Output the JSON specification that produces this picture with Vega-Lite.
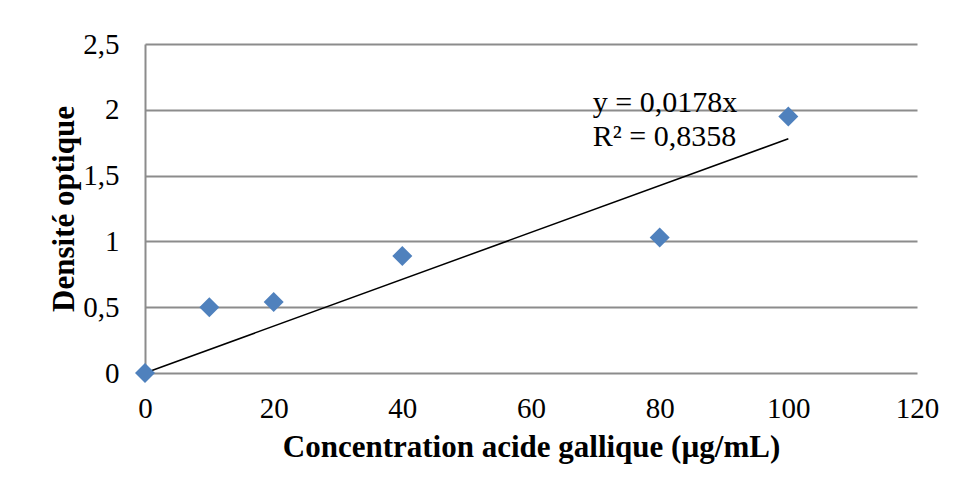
{
  "$schema": "https://vega.github.io/schema/vega-lite/v6.json",
  "autosize": {"type": "none"},
  "width": 772,
  "height": 329,
  "padding": {"left": 145, "top": 44, "right": 38, "bottom": 120},
  "background": "white",
  "config": {
    "view": {"stroke": null},
    "font": "Liberation Serif"
  },
  "datasets": {
    "pts": [
      {"conc": 0, "do": 0},
      {"conc": 10, "do": 0.50},
      {"conc": 20, "do": 0.54},
      {"conc": 40, "do": 0.89},
      {"conc": 80, "do": 1.03},
      {"conc": 100, "do": 1.95}
    ],
    "trend": [
      {"conc": 0, "do": 0},
      {"conc": 100, "do": 1.78}
    ],
    "labels": [
      {"conc": 69.6, "do": 2.05, "text": "y = 0,0178x"},
      {"conc": 69.6, "do": 1.79, "text": "R² = 0,8358"}
    ]
  },
  "layer": [
    {
      "data": {"name": "trend"},
      "mark": {"type": "line", "color": "black", "strokeWidth": 1.5},
      "encoding": {
        "x": {
          "field": "conc", "type": "quantitative",
          "scale": {"domain": [0, 120], "nice": false},
          "axis": {
            "title": "Concentration acide gallique (µg/mL)",
            "values": [0, 20, 40, 60, 80, 100, 120],
            "format": "d",
            "grid": false,
            "domain": false,
            "ticks": false,
            "labelFlush": false,
            "labelOverlap": false,
            "labelFont": "Liberation Serif",
            "labelFontSize": 29,
            "labelColor": "black",
            "labelPadding": 21,
            "titleFont": "Liberation Serif",
            "titleFontSize": 31,
            "titleFontWeight": "bold",
            "titleColor": "black",
            "titlePadding": 9
          }
        },
        "y": {
          "field": "do", "type": "quantitative",
          "scale": {"domain": [0, 2.5], "nice": false},
          "axis": {
            "title": "Densité optique",
            "values": [0, 0.5, 1, 1.5, 2, 2.5],
            "labelExpr": "replace(format(datum.value, '~g'), '.', ',')",
            "grid": true,
            "gridColor": "#8c8c8c",
            "gridWidth": 2,
            "domain": true,
            "domainColor": "#8c8c8c",
            "domainWidth": 2,
            "ticks": false,
            "labelFlush": false,
            "labelOverlap": false,
            "labelFont": "Liberation Serif",
            "labelFontSize": 29,
            "labelColor": "black",
            "labelPadding": 26,
            "titleFont": "Liberation Serif",
            "titleFontSize": 31,
            "titleFontWeight": "bold",
            "titleColor": "black",
            "titlePadding": 2
          }
        }
      }
    },
    {
      "data": {"name": "pts"},
      "mark": {"type": "point", "shape": "diamond", "filled": true, "size": 400, "color": "#4F81BD", "opacity": 1},
      "encoding": {
        "x": {"field": "conc", "type": "quantitative"},
        "y": {"field": "do", "type": "quantitative"}
      }
    },
    {
      "data": {"name": "labels"},
      "mark": {"type": "text", "align": "left", "baseline": "middle", "font": "Liberation Serif", "fontSize": 30, "color": "black"},
      "encoding": {
        "x": {"field": "conc", "type": "quantitative"},
        "y": {"field": "do", "type": "quantitative"},
        "text": {"field": "text"}
      }
    }
  ]
}
